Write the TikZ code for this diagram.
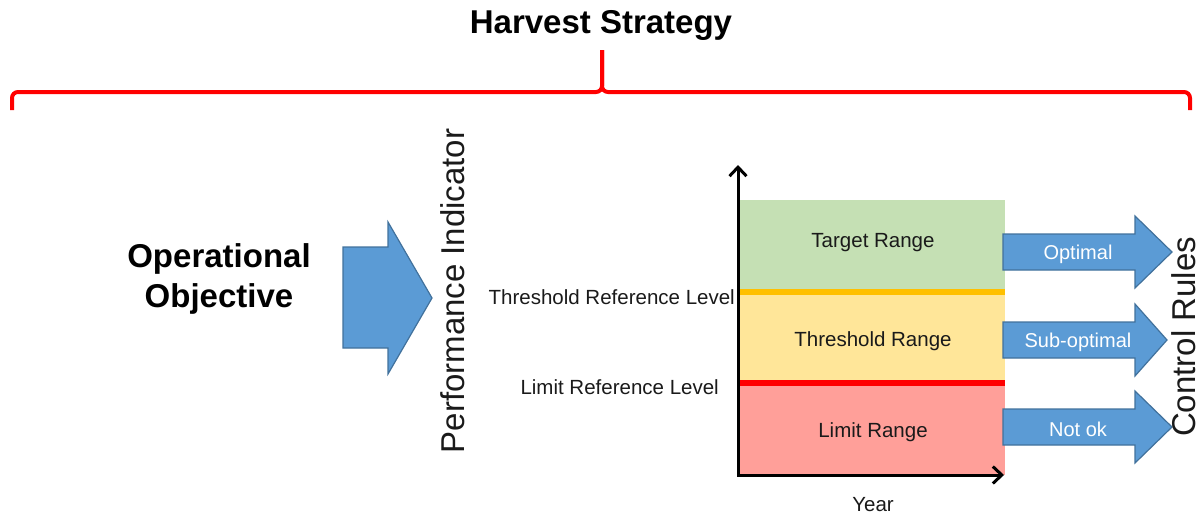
\documentclass[tikz,border=0pt]{standalone}
\usepackage{fontspec}
\setmainfont{Liberation Sans}
\usetikzlibrary{arrows.meta}
\definecolor{brk}{HTML}{FF0000}
\definecolor{arrfill}{HTML}{5B9BD5}
\definecolor{arrline}{HTML}{41719C}
\definecolor{tgt}{HTML}{C5E0B4}
\definecolor{thr}{HTML}{FFE699}
\definecolor{lim}{HTML}{FF9F99}
\definecolor{orng}{HTML}{FFC000}
\definecolor{txt}{HTML}{1A1A1A}
\tikzset{
  bigtext/.style={font=\fontsize{33}{40}\selectfont\bfseries, text=black, align=center, inner sep=0},
  sidetext/.style={font=\fontsize{33}{40}\selectfont, text=txt, rotate=90, inner sep=0},
  lvltext/.style={font=\fontsize{20.5}{24}\selectfont, text=txt, inner sep=0},
  arrowshape/.style={fill=arrfill, draw=arrline, line width=1.2},
  arrtext/.style={font=\fontsize{20}{24}\selectfont, text=white, inner sep=0},
  axis/.style={line width=3, -{Straight Barb[length=9pt,width=17pt,line width=3pt]}},
}
\begin{document}
\begin{tikzpicture}[x=1pt,y=-1pt]
\useasboundingbox (0,0) rectangle (1203,515);
% title and bracket
\node[bigtext] (title) at (601,25) {Harvest Strategy};
\draw[brk, line width=4, rounded corners=6]
  (602,50) -- (602,92) -- (12,92) -- (12,110);
\draw[brk, line width=4, rounded corners=6]
  (602,50) -- (602,92) -- (1190,92) -- (1190,110);
% operational objective
\node[bigtext] (obj) at (219,279) {Operational\\Objective};
\path[arrowshape] (343,247) -- (388,247) -- (388,222) -- (432,298) -- (388,374) -- (388,348) -- (343,348) -- cycle;
% performance indicator
\node[sidetext] (pi) at (453,291) {Performance Indicator};
% chart
\fill[tgt] (739,200) rectangle (1005,292);
\fill[thr] (739,292) rectangle (1005,383);
\fill[lim] (739,383) rectangle (1005,475);
\draw[orng, line width=6] (739,292) -- (1005,292);
\draw[brk, line width=6] (739,383) -- (1005,383);
\coordinate (o) at (738,475);
\coordinate (ytop) at (738,165);
\coordinate (xend) at (1004,475);
\draw[axis, line cap=rect] (o) -- (ytop);
\draw[axis] (o) -- (xend);
\node[lvltext] (tr) at (873,243) {Target Range};
\node[lvltext] (thr) at (873,341) {Threshold Range};
\node[lvltext] (lr) at (873,432) {Limit Range};
\node[lvltext] (year) at (873,505) {Year};
\node[lvltext, anchor=east] (trl) at (735,297) {Threshold Reference Level};
\node[lvltext, anchor=east] (lrl) at (719,387) {Limit Reference Level};
% control arrows
\foreach \cy/\tip/\lab/\nm in {252/1172/Optimal/a1, 340/1167/Sub-optimal/a2, 427/1172/Not ok/a3}{
  \path[arrowshape] (1003,\cy-18) -- (1135,\cy-18) -- (1135,\cy-36) -- (\tip,\cy) -- (1135,\cy+36) -- (1135,\cy+18) -- (1003,\cy+18) -- cycle;
  \node[arrtext] (\nm) at (1078,\cy+2) {\lab};
}
\node[sidetext] (cr) at (1184,337) {Control Rules};
\end{tikzpicture}
\end{document}
